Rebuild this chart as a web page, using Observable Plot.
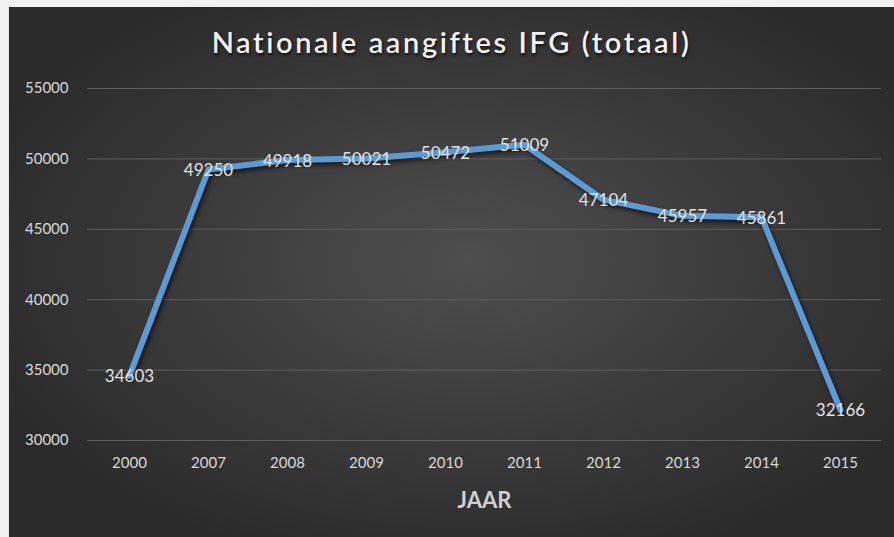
<!DOCTYPE html>
<html>
<head>
<meta charset="utf-8">
<script src="https://cdn.jsdelivr.net/npm/d3@7"></script>
<script src="https://cdn.jsdelivr.net/npm/@observablehq/plot@0.6"></script>
<style>
  html, body { margin: 0; padding: 0; background: #f2f2f2; width: 894px; height: 537px; overflow: hidden; }
  #panel {
    position: absolute; left: 8px; top: 7px; width: 885px; height: 530px;
    background: radial-gradient(ellipse 60% 60% at 52% 48%, #4e4e4e 0%, #3c3c3c 50%, #2a2a2a 100%);
    border-left: 1px solid #e6e6e6;
  }
  #title {
    position: absolute; left: 0; width: 885px; top: 17px; text-align: center;
    font-family: Lato, "Open Sans", sans-serif; font-size: 29px; font-weight: 600;
    letter-spacing: 2.6px; color: #f2f2f2; text-shadow: 1px 2px 3px rgba(0,0,0,0.7);
  }
  #chart { position: absolute; left: 0; top: 0; }
</style>
</head>
<body>
<div id="panel">
  <div id="chart"></div>
  <div id="title">Nationale aangiftes IFG (totaal)</div>
</div>
<script>
const years = ["2000", "2007", "2008", "2009", "2010", "2011", "2012", "2013", "2014", "2015"];
const values = [34603, 49250, 49918, 50021, 50472, 51009, 47104, 45957, 45861, 32166];
const yTicks = [30000, 35000, 40000, 45000, 50000, 55000];
const xTitle = "JAAR";

const data = years.map((y, i) => ({year: y, value: values[i]}));

const plot = Plot.plot({
  width: 885,
  height: 530,
  marginLeft: 78,
  marginRight: 13,
  marginTop: 81,
  marginBottom: 97,
  style: {background: "transparent", fontFamily: "Lato, 'Open Sans', sans-serif", fontSize: "15px", color: "#d9d9d9"},
  x: {type: "point", domain: years, padding: 0.5, label: null, tickSize: 0, tickPadding: 17},
  y: {domain: [30000, 55000], ticks: yTicks, tickFormat: d3.format("d"), label: null, tickSize: 0, tickPadding: 19},
  marks: [
    Plot.ruleY(yTicks, {stroke: "#5e5e5e", strokeWidth: 1}),
    Plot.line(data, {x: "year", y: "value", stroke: "#5b9bd5", strokeWidth: 6, strokeLinejoin: "round", strokeLinecap: "round"}),
    Plot.text(data, {x: "year", y: "value", text: d => String(d.value), fill: "#e2e2e2", fontSize: 17, dy: 1}),
    Plot.text([xTitle], {frameAnchor: "bottom", text: d => d, dy: 67, fontSize: 22, fontWeight: "bold", fill: "#d0d0d0"})
  ]
});
d3.select(plot).selectAll('g[aria-label="line"]').style("filter", "drop-shadow(2px 3px 2px rgba(0,0,0,0.6))");
d3.select(plot).selectAll('g[aria-label="x-axis tick label"], g[aria-label="y-axis tick label"]').attr("fill", "#d9d9d9");
document.getElementById("chart").appendChild(plot);
</script>
</body>
</html>
